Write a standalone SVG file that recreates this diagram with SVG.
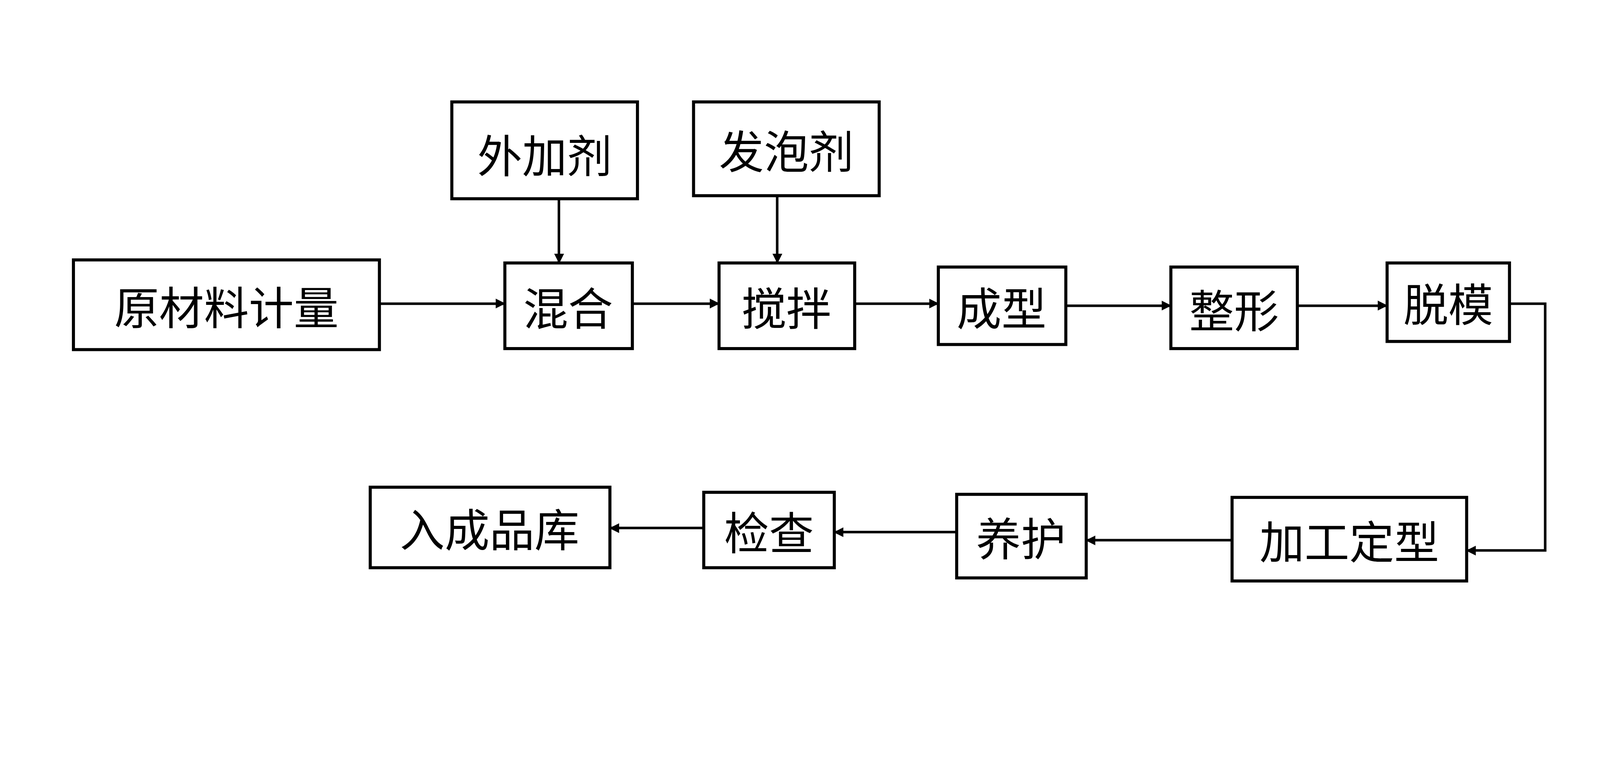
<svg xmlns="http://www.w3.org/2000/svg" width="4512" height="1952" viewBox="0 0 4512 1952">
<style>
.b{fill:#fff;stroke:#000;stroke-width:3}
.t{font-family:"Noto Sans CJK SC",sans-serif;font-size:44px;fill:#000;text-anchor:middle;dominant-baseline:central}
.c{fill:none;stroke:#000;stroke-width:2.5}
</style>
<defs><marker id="a" markerWidth="10" markerHeight="10" refX="9" refY="5" orient="auto" markerUnits="userSpaceOnUse"><path d="M0,0L10,5L0,10z" fill="#000" transform="scale(1.6) translate(-4,-2)"/></marker></defs>
<rect width="4512" height="1952" fill="#fff"/>
<g transform="scale(2.611)">
<g id="connectors">
<path class="c" d="M372,298H495" marker-end="url(#a)"/>
<path class="c" d="M620,298H705" marker-end="url(#a)"/>
<path class="c" d="M838,298H920" marker-end="url(#a)"/>
<path class="c" d="M1045,300H1148" marker-end="url(#a)"/>
<path class="c" d="M1272,300H1360" marker-end="url(#a)"/>
<path class="c" d="M548,195V258" marker-end="url(#a)"/>
<path class="c" d="M762,192V258" marker-end="url(#a)"/>
<path class="c" d="M1480,298H1515V540H1438" marker-end="url(#a)"/>
<path class="c" d="M1208,530H1065" marker-end="url(#a)"/>
<path class="c" d="M938,522H818" marker-end="url(#a)"/>
<path class="c" d="M690,518H598" marker-end="url(#a)"/>
</g>
<g id="n1"><rect class="b" x="72" y="255" width="300" height="88"/><text class="t" x="222" y="299">原材料计量</text></g>
<g id="n2"><rect class="b" x="443" y="100" width="182" height="95"/><text class="t" x="534" y="150">外加剂</text></g>
<g id="n3"><rect class="b" x="680" y="100" width="182" height="92"/><text class="t" x="771" y="146">发泡剂</text></g>
<g id="n4"><rect class="b" x="495" y="258" width="125" height="84"/><text class="t" x="557" y="300">混合</text></g>
<g id="n5"><rect class="b" x="705" y="258" width="133" height="84"/><text class="t" x="771" y="300">搅拌</text></g>
<g id="n6"><rect class="b" x="920" y="262" width="125" height="76"/><text class="t" x="982" y="300">成型</text></g>
<g id="n7"><rect class="b" x="1148" y="262" width="124" height="80"/><text class="t" x="1210" y="302">整形</text></g>
<g id="n8"><rect class="b" x="1360" y="258" width="120" height="77"/><text class="t" x="1420" y="296">脱模</text></g>
<g id="n9"><rect class="b" x="1208" y="488" width="230" height="82"/><text class="t" x="1323" y="529">加工定型</text></g>
<g id="n10"><rect class="b" x="938" y="485" width="127" height="82"/><text class="t" x="1001" y="526">养护</text></g>
<g id="n11"><rect class="b" x="690" y="483" width="128" height="74"/><text class="t" x="754" y="520">检查</text></g>
<g id="n12"><rect class="b" x="363" y="478" width="235" height="79"/><text class="t" x="480" y="517">入成品库</text></g>
</g>
</svg>
